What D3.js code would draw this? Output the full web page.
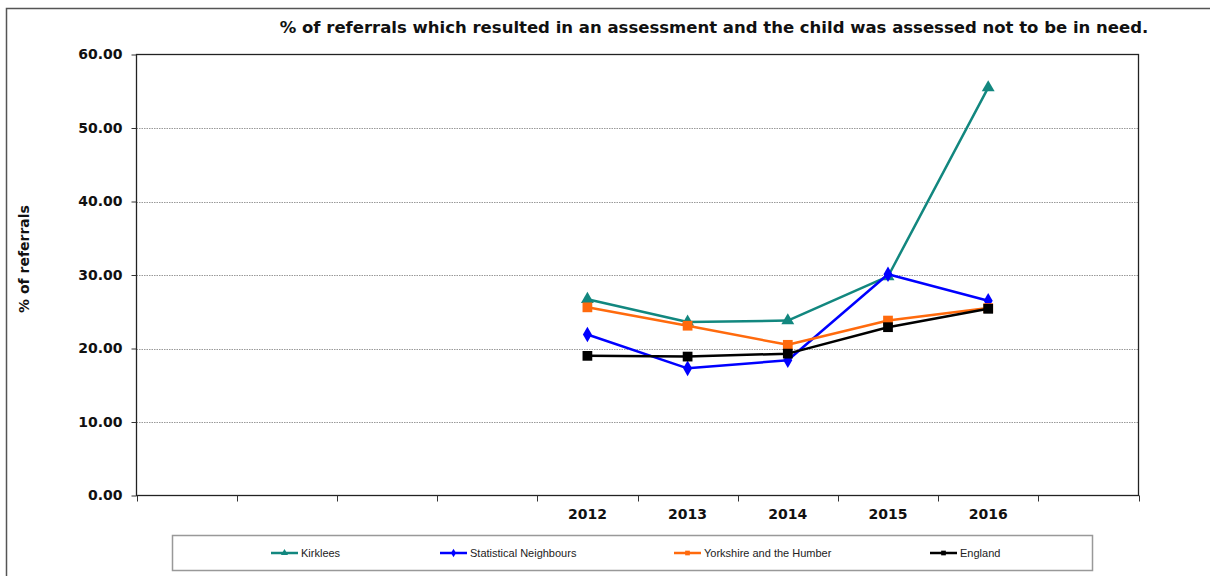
<!DOCTYPE html>
<html>
<head>
<meta charset="utf-8">
<script src="https://cdn.jsdelivr.net/npm/d3@7"></script>
<style>
  html, body { margin: 0; padding: 0; background: #fff; }
  svg { display: block; }
  .boldtxt { font-family: "DejaVu Sans", Verdana, sans-serif; font-weight: bold; fill: #111; }
  .legtxt { font-family: "Liberation Sans", Arial, sans-serif; font-size: 11px; fill: #222; }
</style>
</head>
<body>
<svg id="chart" width="1210" height="576"></svg>
<script>
// Category slots along the x axis (empty slots keep the years to the right)
const categories = ["s1", "s2", "s3", "s4", "2012", "2013", "2014", "2015", "2016", "s10"];
const tickLabels = ["", "", "", "", "2012", "2013", "2014", "2015", "2016", ""];
const years = ["2012", "2013", "2014", "2015", "2016"];

const kirklees = [26.7, 23.6, 23.8, 29.8, 55.5];
const statNeighbours = [21.9, 17.3, 18.4, 30.1, 26.5];
const yorkshire = [25.6, 23.1, 20.5, 23.8, 25.5];
const england = [19.0, 18.9, 19.3, 22.9, 25.4];

const yTicks = [0, 10, 20, 30, 40, 50, 60];

const series = [
  { name: "Kirklees", values: kirklees, color: "#12877f", marker: "triangle" },
  { name: "Statistical Neighbours", values: statNeighbours, color: "#0000ff", marker: "diamond" },
  { name: "Yorkshire and the Humber", values: yorkshire, color: "#ff6a0d", marker: "square" },
  { name: "England", values: england, color: "#000000", marker: "square" }
];

const svg = d3.select("#chart");

// Outer frame
svg.append("path")
  .attr("d", "M6.5,576 V8.5 H1210")
  .attr("fill", "none").attr("stroke", "#555").attr("stroke-width", 1.5);

const plot = { left: 136.5, right: 1138.5, top: 54.5, bottom: 495.5 };

const x = d3.scaleBand().domain(categories).range([plot.left, plot.right]);
const y = d3.scaleLinear().domain([0, 60]).range([plot.bottom, plot.top]);

// Title
svg.append("text").attr("class", "boldtxt")
  .attr("x", 714).attr("y", 33).attr("text-anchor", "middle")
  .style("font-size", "16.5px")
  .text("% of referrals which resulted in an assessment and the child was assessed not to be in need.");

// Gridlines
svg.append("g").selectAll("line")
  .data(yTicks.filter(d => d > 0 && d < 60))
  .join("line")
  .attr("x1", plot.left).attr("x2", plot.right)
  .attr("y1", d => Math.round(y(d)) + 0.5).attr("y2", d => Math.round(y(d)) + 0.5)
  .attr("stroke", "#999").attr("stroke-width", 1).attr("stroke-dasharray", "1.5,1");

// Plot frame
svg.append("rect")
  .attr("x", plot.left).attr("y", plot.top)
  .attr("width", plot.right - plot.left).attr("height", plot.bottom - plot.top)
  .attr("fill", "none").attr("stroke", "#222").attr("stroke-width", 1.3);

// Y axis
const yAxis = d3.axisLeft(y).tickValues(yTicks).tickSize(5).tickPadding(9)
  .tickFormat(d3.format(".2f"));
const yg = svg.append("g").attr("transform", `translate(${plot.left},0)`).call(yAxis);
yg.select(".domain").remove();
yg.selectAll(".tick line").attr("stroke", "#333");
yg.selectAll("text").attr("class", "boldtxt").style("font-size", "14px").attr("font-family", null);

// Y axis title
svg.append("text").attr("class", "boldtxt")
  .attr("transform", "translate(29,259) rotate(-90)")
  .attr("text-anchor", "middle").style("font-size", "14px")
  .text("% of referrals");

// X axis: tick marks on band boundaries, labels in band centres
const bounds = categories.map(c => x(c)).concat([x(categories[categories.length - 1]) + x.bandwidth()]);
svg.append("g").selectAll("line").data(bounds).join("line")
  .attr("x1", d => Math.round(d) + 0.5).attr("x2", d => Math.round(d) + 0.5)
  .attr("y1", plot.bottom).attr("y2", plot.bottom + 6)
  .attr("stroke", "#333").attr("stroke-width", 1);

svg.append("g").selectAll("text").data(categories).join("text")
  .attr("class", "boldtxt").style("font-size", "14px")
  .attr("x", (d) => x(d) + x.bandwidth() / 2).attr("y", 519)
  .attr("text-anchor", "middle")
  .text((d, i) => tickLabels[i]);

// Markers
const symbolTypes = { triangle: d3.symbolTriangle, diamond: d3.symbolDiamond, square: d3.symbolSquare };
const symbolSizes = { triangle: 72, diamond: 70, square: 95 };
function marker(sel, s) {
  sel.attr("d", d3.symbol().type(symbolTypes[s.marker]).size(symbolSizes[s.marker])())
    .attr("fill", s.color);
}

const line = d3.line()
  .x((d, i) => x(years[i]) + x.bandwidth() / 2)
  .y(d => y(d));

series.forEach(s => {
  const g = svg.append("g");
  g.append("path").datum(s.values)
    .attr("d", line)
    .attr("fill", "none").attr("stroke", s.color).attr("stroke-width", 2.5)
    .attr("stroke-linejoin", "round");
  g.selectAll("path.m").data(s.values).join("path").attr("class", "m")
    .attr("transform", (d, i) => `translate(${x(years[i]) + x.bandwidth() / 2},${y(d)})`)
    .call(sel => marker(sel, s));
});

// Legend
svg.append("rect")
  .attr("x", 172.5).attr("y", 535.5).attr("width", 920).attr("height", 35)
  .attr("fill", "#fff").attr("stroke", "#999").attr("stroke-width", 1.5);

const legendX = [271, 440, 674, 930];
series.forEach((s, i) => {
  const g = svg.append("g").attr("transform", `translate(${legendX[i]},553)`);
  g.append("line").attr("x1", 0).attr("x2", 27).attr("y1", 0).attr("y2", 0)
    .attr("stroke", s.color).attr("stroke-width", 2.5);
  g.append("path").attr("transform", "translate(13.5,0)")
    .attr("d", d3.symbol().type(symbolTypes[s.marker]).size(22)())
    .attr("fill", s.color);
  g.append("text").attr("class", "legtxt").attr("x", 30).attr("y", 4).text(s.name);
});
</script>
</body>
</html>
